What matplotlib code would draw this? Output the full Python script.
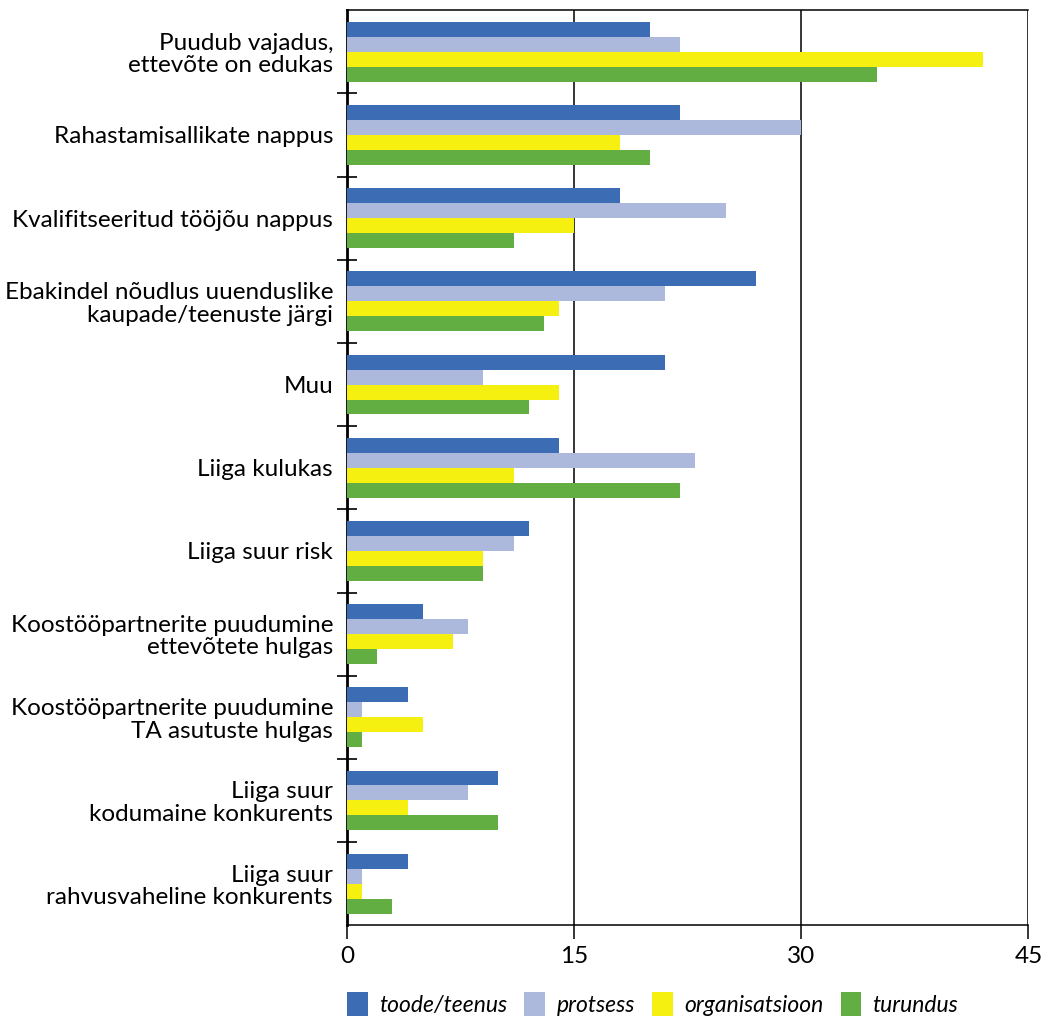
import numpy as np
import matplotlib.pyplot as plt
from matplotlib.patches import Patch

plt.rcParams['font.family'] = ['Lato', 'DejaVu Sans']

categories = [
    "Puudub vajadus,\nettevõte on edukas",
    "Rahastamisallikate nappus",
    "Kvalifitseeritud tööjõu nappus",
    "Ebakindel nõudlus uuenduslike\nkaupade/teenuste järgi",
    "Muu",
    "Liiga kulukas",
    "Liiga suur risk",
    "Koostööpartnerite puudumine\nettevõtete hulgas",
    "Koostööpartnerite puudumine\nTA asutuste hulgas",
    "Liiga suur\nkodumaine konkurents",
    "Liiga suur\nrahvusvaheline konkurents",
]
toode = [20, 22, 18, 27, 21, 14, 12, 5, 4, 10, 4]
protsess = [22, 30, 25, 21, 9, 23, 11, 8, 1, 8, 1]
organisatsioon = [42, 18, 15, 14, 14, 11, 9, 7, 5, 4, 1]
turundus = [35, 20, 11, 13, 12, 22, 9, 2, 1, 10, 3]

series = [toode, protsess, organisatsioon, turundus]
names = ["toode/teenus", "protsess", "organisatsioon", "turundus"]
colors = ["#3C6DB4", "#ADB9DC", "#F5F00F", "#62AE42"]

fig = plt.figure(figsize=(10.42, 10.19), dpi=100)
ax = fig.add_axes([0.333, 0.092, 0.654, 0.898])

y = np.arange(len(categories))
h = 0.18
for i, (vals, c) in enumerate(zip(series, colors)):
    ax.barh(y - 1.5 * h + i * h, vals, height=h, color=c, zorder=3)

ax.set_xlim(0, 45)
ax.set_ylim(len(categories) - 0.5, -0.5)
ax.set_xticks([0, 15, 30, 45])
ax.set_xticklabels(["0", "15", "30", "45"], fontsize=17.5)
for xv in [15, 30, 45]:
    ax.axvline(xv, color="black", lw=1.1, zorder=1)

# boundary ticks between categories, labels at the centres
ax.set_yticks(np.arange(len(categories) - 1) + 0.5)
ax.set_yticklabels([])
ax.set_yticks(y, minor=True)
ax.set_yticklabels(categories, minor=True, fontsize=17.5, ha="right",
                   linespacing=1.08)
ax.tick_params(axis="y", which="major", direction="inout", length=14, width=1.2)
ax.tick_params(axis="y", which="minor", length=0, pad=10)
ax.tick_params(axis="x", direction="out", length=10, width=1.1, pad=5)

ax.spines["right"].set_visible(False)
ax.spines["left"].set_linewidth(2)
ax.spines["bottom"].set_linewidth(1.1)
ax.spines["top"].set_linewidth(1.1)

handles = [Patch(facecolor=c, label=n) for n, c in zip(names, colors)]
leg = fig.legend(handles=handles, loc="center left", ncol=4,
                 bbox_to_anchor=(0.333, 1 - 1004 / 1019), frameon=False,
                 prop={"size": 16.5, "style": "italic"}, handlelength=0.9,
                 handleheight=1.25, handletextpad=0.5, columnspacing=0.75,
                 borderaxespad=0, borderpad=0)

fig.savefig("out.png", dpi=100)
